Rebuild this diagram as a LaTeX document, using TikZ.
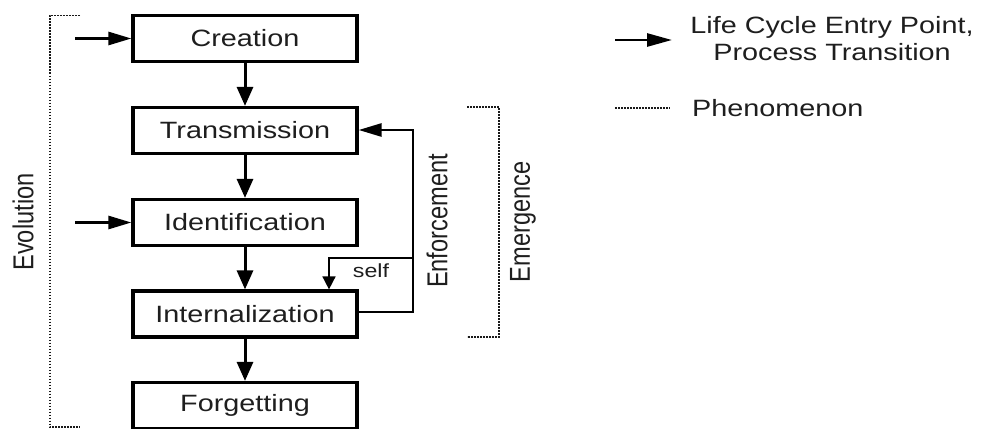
\documentclass[tikz,border=0pt]{standalone}
\usepackage{fontspec}
\setmainfont{Liberation Sans}
\usetikzlibrary{arrows.meta}
\definecolor{txt}{HTML}{1E1E1E}
\newcommand{\hs}[1]{\scalebox{1.22}[1]{#1}}
\newcommand{\vs}[1]{\scalebox{1}[1.22]{#1}}
\begin{document}
\begin{tikzpicture}[x=1pt,y=-1pt,
  procbox/.style={draw=black,line width=3.2pt,minimum width=224pt,minimum height=46pt,inner sep=0pt,text=txt,font=\fontsize{23.6pt}{26pt}\selectfont},
  lbl/.style={text=txt,font=\fontsize{23.6pt}{26pt}\selectfont,inner sep=0pt},
  flow/.style={line width=3pt,-{Triangle[length=19pt,width=16pt]}},
  hflow/.style={line width=2.7pt,-{Triangle[length=23pt,width=13pt]}},
  phen/.style={line width=1.8pt,dash pattern=on 1.6pt off 1.4pt,draw=black!90}]
\useasboundingbox (0,0) rectangle (981,428);
\node[procbox] (cre) at (245,38.5) {\hs{Creation}};
\node[procbox] (tra) at (245,130.5) {\hs{Transmission}};
\node[procbox] (ide) at (245,222.5) {\hs{Identification}};
\node[procbox] (int) at (245,314) {\hs{Internalization}};
\node[procbox] (for) at (245,405.5) {\hs{Forgetting}};
\draw[flow] (cre) -- (tra);
\draw[flow] (tra) -- (ide);
\draw[flow] (ide) -- (int);
\draw[flow] (int) -- (for);
\coordinate (e1) at (75,38.5);
\coordinate (e2) at (75,222.5);
\draw[hflow] (e1) -- (cre.west);
\draw[hflow] (e2) -- (ide.west);
% feedback
\coordinate (fb1) at (413,312);
\coordinate (fb2) at (413,130);
\coordinate (sb) at (413,258);
\coordinate (sc) at (329,258);
\draw[hflow] (int.east |- fb1) -- (fb1) -- (fb2) -- (tra.east |- fb2);
\draw[line width=1.6pt,-{Triangle[length=13pt,width=13pt]}] (sb) -- (sc) -- (sc |- int.north);
\node[lbl,font=\fontsize{19pt}{22pt}\selectfont] (self) at (371,271) {\hs{self}};
\node[lbl,rotate=90] (enf) at (437,221) {\vs{Enforcement}};
% emergence bracket
\coordinate (m1) at (467,107);
\coordinate (m2) at (499,107);
\coordinate (m3) at (499,337);
\coordinate (m4) at (467,337);
\draw[phen] (m1) -- (m2) -- (m3) -- (m4);
\node[lbl,rotate=90] (eme) at (523,222) {\vs{Emergence}};
% evolution bracket
\coordinate (v1) at (80,15.5);
\coordinate (v2) at (50,15.5);
\coordinate (v3) at (50,427);
\coordinate (v4) at (80,427);
\draw[phen] (v1) -- (v2) -- (v3) -- (v4);
\node[lbl,rotate=90] (evo) at (23,222) {\vs{Evolution}};
% legend
\coordinate (la1) at (615,40);
\coordinate (la2) at (672,40);
\draw[hflow,-{Triangle[length=25pt,width=13pt]}] (la1) -- (la2);
\node[lbl,align=center] (ltxt) at (832,39) {\hs{Life Cycle Entry Point,}\\[1pt]\hs{Process Transition}};
\coordinate (ld1) at (615,108);
\coordinate (ld2) at (670,108);
\draw[phen] (ld1) -- (ld2);
\node[lbl,anchor=west] (lphen) at (692,108) {\hs{Phenomenon}};
\end{tikzpicture}
\end{document}
